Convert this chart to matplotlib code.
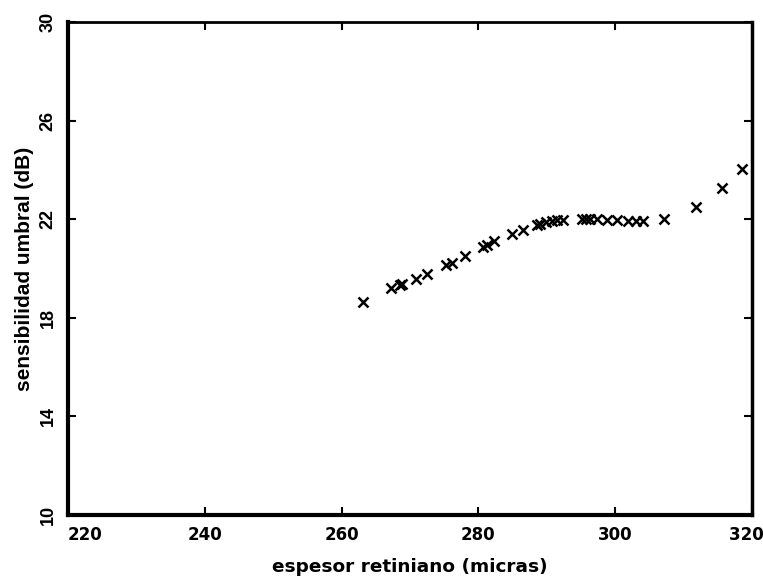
import matplotlib
matplotlib.use("Agg")
import matplotlib.pyplot as plt

### Data
espesor = [263.1, 267.3, 268.5, 268.9, 270.9, 272.5, 275.3, 276.1, 278.0,
           280.7, 281.3, 282.3, 284.9, 286.5, 288.6, 289.0, 289.9, 290.7,
           291.5, 292.3, 295.1, 295.7, 296.3, 297.3, 298.8, 300.3, 301.9,
           303.0, 304.1, 307.2, 311.8, 315.6, 318.6]
sensibilidad = [18.63, 19.20, 19.33, 19.36, 19.59, 19.79, 20.14, 20.24, 20.51,
                20.88, 20.94, 21.10, 21.39, 21.56, 21.76, 21.79, 21.87, 21.93,
                21.96, 21.97, 22.01, 22.01, 22.01, 22.00, 21.98, 21.96, 21.94,
                21.93, 21.91, 21.99, 22.48, 23.25, 24.02]
x_ticks = [220, 240, 260, 280, 300, 320]
y_ticks = [10, 14, 18, 22, 26, 30]

plt.rcParams['font.family'] = ['DejaVu Sans']
plt.rcParams['font.weight'] = 'bold'

fig = plt.figure(figsize=(7.63, 5.79), dpi=100)
ax = fig.add_axes([0.089, 0.1105, 0.8966, 0.8515])

ax.plot(espesor, sensibilidad, linestyle='none', marker='x', color='black',
        markersize=6.5, markeredgewidth=1.8, clip_on=False)

ax.set_xlim(220, 320)
ax.set_ylim(10, 30)
ax.set_xticks(x_ticks)
ax.set_yticks(y_ticks)
# last label padded with trailing spaces so it sits a bit left of its tick, like the original
xtick_text = [str(t) for t in x_ticks]
xtick_text[-1] = xtick_text[-1] + "  "
ax.set_xticklabels(xtick_text, fontsize=12, fontweight='bold')
ax.set_yticklabels([str(t) for t in y_ticks], fontsize=13, fontweight='bold',
                   family=['Liberation Sans', 'DejaVu Sans'],
                   rotation=90, va='center')

# First x label starts at the axis instead of being centred on it
ax.get_xticklabels()[0].set_horizontalalignment('left')

# Thick left/bottom, thinner top/right
ax.spines['left'].set_linewidth(3)
ax.spines['bottom'].set_linewidth(3)
ax.spines['top'].set_linewidth(2)
ax.spines['right'].set_linewidth(2.5)
ax.tick_params(direction='in', length=6, width=1.5, top=True, right=True)
ax.tick_params(axis='x', pad=8)
ax.tick_params(axis='y', pad=8)

ax.set_xlabel("espesor retiniano (micras)", fontsize=13.3, fontweight='bold', labelpad=10)
ax.set_ylabel("sensibilidad umbral (dB)", fontsize=15, fontweight='bold',
              family=['Liberation Sans', 'DejaVu Sans'], labelpad=4)

plt.savefig("out.png", format='png')
plt.close()
